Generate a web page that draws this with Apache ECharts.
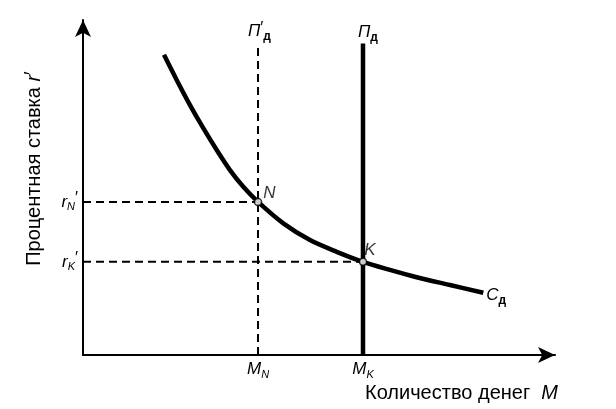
<!DOCTYPE html>
<html><head><meta charset="utf-8">
<script src="https://cdn.jsdelivr.net/npm/echarts@6/dist/echarts.min.js"></script>
<style>html,body{margin:0;padding:0;background:#fff}#c{width:616px;height:409px}</style>
</head><body><div id="c"></div>
<script>
// Demand curve C_д (money quantity vs interest rate)
const curveX = [1.716, 1.985, 2.267, 2.549, 2.833, 3.114, 3.396, 3.708, 4.244, 4.809, 5.375, 5.932, 6.504, 7.070, 7.775, 8.481];
const curveY = [8.96, 8.21, 7.46, 6.77, 6.12, 5.52, 5.02, 4.57, 3.93, 3.43, 3.08, 2.78, 2.54, 2.32, 2.09, 1.86];
// Equilibrium points
const pointN = [3.708, 4.57];
const pointK = [5.932, 2.78];
const supplyTop = 9.3;
// Tick labels
const xTickValues = [pointN[0], pointK[0]];
const xTickLabels = ['{i|M}{s|N}', '{i|M}{s|K}'];
const yTickValues = [pointK[1], pointN[1]];
const yTickLabels = ['{i|r}{s|K}{p|′}', '{i|r}{s|N}{p|′}'];

const FONT = '"Liberation Sans", Arial, sans-serif';
const INK = '#000';
const rich = {
  i: {fontFamily: FONT, fontStyle: 'italic', fontSize: 17, color: INK, lineHeight: 22, verticalAlign: 'middle'},
  s: {fontFamily: FONT, fontStyle: 'italic', fontSize: 11, color: INK, lineHeight: 11, verticalAlign: 'bottom'},
  d: {fontFamily: FONT, fontSize: 12, color: INK, lineHeight: 12, verticalAlign: 'bottom', fontWeight: 'bold'},
  p: {fontFamily: FONT, fontSize: 16, color: INK, lineHeight: 14, verticalAlign: 'top'},
  t: {fontFamily: FONT, fontSize: 20, color: INK, lineHeight: 24, verticalAlign: 'middle'},
  ti: {fontFamily: FONT, fontStyle: 'italic', fontSize: 20, color: INK, lineHeight: 24, verticalAlign: 'middle'},
  tp: {fontFamily: FONT, fontSize: 20, color: INK, lineHeight: 18, verticalAlign: 'top'}
};

const chart = echarts.init(document.getElementById('c'), null, {renderer: 'canvas'});
const curveData = curveX.map((x, i) => [x, curveY[i]]);

chart.setOption({
  animation: false,
  backgroundColor: '#fff',
  grid: {left: 83, right: 61, top: 20, bottom: 54, containLabel: false},
  xAxis: {
    type: 'value', min: 0, max: 10,
    axisLine: {lineStyle: {color: INK, width: 2}, symbol: ['none', 'arrow'], symbolSize: [12, 17]},
    axisTick: {show: false},
    splitLine: {show: false},
    axisLabel: {
      customValues: xTickValues, margin: 3,
      formatter: (v) => xTickLabels[xTickValues.indexOf(v)] || '',
      rich: rich
    },
    name: '{t|Количество денег  }{ti|M}',
    nameLocation: 'end', nameGap: 3,
    nameTextStyle: {align: 'right', verticalAlign: 'top', padding: [26, 0, 0, 0], rich: rich}
  },
  yAxis: {
    type: 'value', min: 0, max: 10,
    axisLine: {lineStyle: {color: INK, width: 2}, symbol: ['none', 'arrow'], symbolSize: [12, 17]},
    axisTick: {show: false},
    splitLine: {show: false},
    axisLabel: {
      customValues: yTickValues, margin: 5,
      formatter: (v) => yTickLabels[yTickValues.indexOf(v)] || '',
      rich: rich
    },
    name: '{t|Процентная ставка }{ti|r}{tp|′}',
    nameLocation: 'middle', nameGap: 37,
    nameTextStyle: {padding: [0, 0, 0, 38], rich: rich}
  },
  series: [
    {type: 'line', data: [[0, pointN[1]], pointN], symbol: 'none', silent: true,
     lineStyle: {color: INK, width: 2, type: [8, 5]}, z: 2},
    {type: 'line', data: [[0, pointK[1]], pointK], symbol: 'none', silent: true,
     lineStyle: {color: INK, width: 2, type: [8, 5]}, z: 2},
    {type: 'line', data: [[pointN[0], 0], [pointN[0], supplyTop]], silent: true,
     symbol: 'none',
     lineStyle: {color: INK, width: 2, type: [8, 5]}, z: 2,
     endLabel: {show: true, formatter: '{i|П}{p|′}{d|д}', rich: rich, distance: 0, offset: [-10, -12]}},
    {type: 'line', data: [[pointK[0], 0], [pointK[0], supplyTop]], silent: true,
     symbol: 'none',
     lineStyle: {color: INK, width: 4.5}, z: 3,
     endLabel: {show: true, formatter: '{i|П}{d|д}', rich: rich, distance: 0, offset: [-5, -11]}},
    {type: 'line', data: curveData, smooth: 0.3, symbol: 'none', silent: true,
     lineStyle: {color: INK, width: 4.5}, z: 4,
     endLabel: {show: true, formatter: '{i|C}{d|д}', rich: rich, distance: 3, offset: [0, 3]}},
    {type: 'scatter', data: [pointN], symbol: 'circle', symbolSize: 7, silent: true, z: 5,
     itemStyle: {color: '#fff', borderColor: INK, borderWidth: 1.5},
     label: {show: true, position: 'right', distance: 0, offset: [1, -9], formatter: '{i|N}', rich: rich}},
    {type: 'scatter', data: [pointK], symbol: 'circle', symbolSize: 7, silent: true, z: 5,
     itemStyle: {color: '#fff', borderColor: INK, borderWidth: 1.5},
     label: {show: true, position: 'right', distance: 0, offset: [-3, -12], formatter: '{i|K}', rich: rich}}
  ]
});
</script>
</body></html>
